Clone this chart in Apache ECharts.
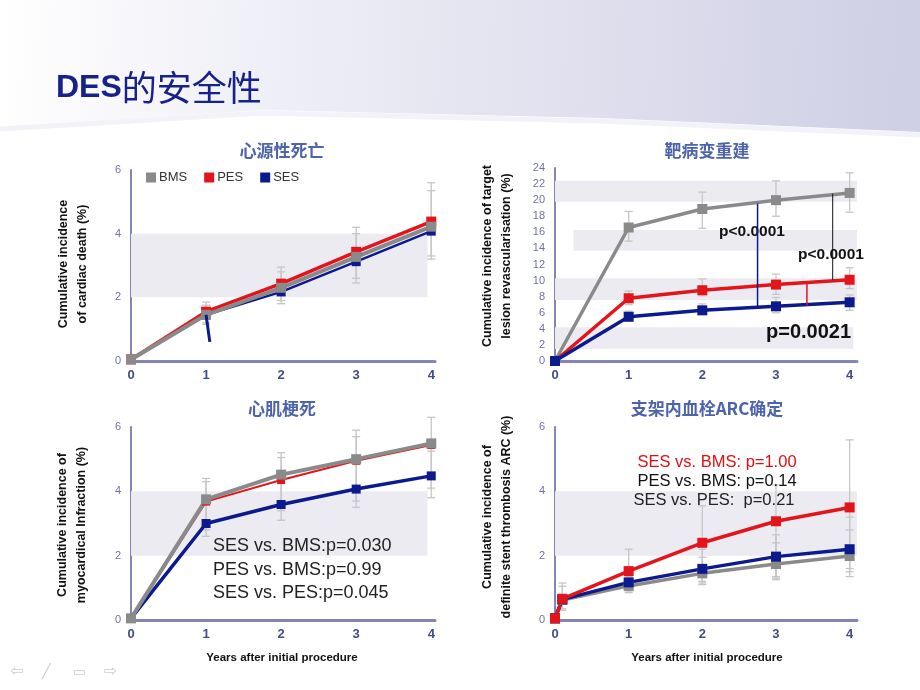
<!DOCTYPE html>
<html><head><meta charset="utf-8">
<script src="https://cdn.jsdelivr.net/npm/echarts@6/dist/echarts.min.js"></script>
<style>html,body{margin:0;padding:0;background:#fff}#c{width:920px;height:690px}</style>
</head><body><div id="c"></div>
<script>
// ---------- data ----------
const years = [0, 1, 2, 3, 4];
const xTicks = [0, 1, 2, 3, 4];
// Panel 1: cardiac death
const cdBMS = [0.05, 1.45, 2.3, 3.27, 4.22];
const cdPES = [0.05, 1.55, 2.43, 3.43, 4.38];
const cdSES = [0.05, 1.45, 2.17, 3.12, 4.08];
const cdSesTick = [[1, 1.45], [1.05, 0.6]];
const cdErr = [[1, 1.15, 1.85], [1, 1.2, 1.75], [2, 1.8, 2.95], [2, 1.9, 2.8], [3, 2.45, 4.2], [3, 2.6, 4.0], [4, 3.2, 5.6], [4, 3.3, 5.35]];
// Panel 2: target lesion revascularisation
const tlBMS = [0, 16.6, 18.9, 20.0, 20.9];
const tlPES = [0, 7.8, 8.8, 9.5, 10.1];
const tlSES = [0, 5.5, 6.3, 6.8, 7.3];
const tlErr = [[1, 14.9, 18.6], [2, 16.5, 21.0], [3, 18.0, 22.4], [4, 18.5, 23.4],
               [1, 7.0, 8.7], [2, 8.1, 10.2], [3, 8.3, 10.8], [4, 9.0, 11.6],
               [1, 5.0, 6.2], [2, 5.8, 7.1], [3, 6.0, 7.9], [4, 6.3, 8.2]];
const tlBands = [[0, 19.8, 4.1, 22.4], [0.25, 13.7, 4.1, 16.3], [0, 7.6, 4.1, 10.3], [0, 1.5, 4.05, 4.2]];
const tlLineSes = [[2.75, 6.8], [2.75, 19.6]];
const tlLineBms = [[3.77, 10.1], [3.77, 20.8]];
const tlLinePes = [[3.42, 6.9], [3.42, 9.7]];
// Panel 3: myocardial infarction
const miBMS = [0.05, 3.75, 4.52, 5.0, 5.49];
const miPES = [0.05, 3.68, 4.35, 4.95, 5.44];
const miSES = [0.05, 3.0, 3.59, 4.07, 4.48];
const miErr = [[1, 2.6, 4.4], [1, 2.8, 4.3], [2, 3.1, 5.2], [2, 3.4, 5.05], [3, 3.5, 5.9], [3, 3.7, 5.7], [4, 3.8, 6.3], [4, 4.1, 5.25]];
// Panel 4: definite stent thrombosis ARC
const stX = [0, 0.1, 1, 2, 3, 4];
const stBMS = [0.05, 0.62, 1.06, 1.45, 1.74, 1.99];
const stPES = [0.05, 0.66, 1.52, 2.4, 3.07, 3.5];
const stSES = [0.05, 0.64, 1.17, 1.59, 1.97, 2.2];
const stErr = [[0.1, 0.3, 1.15], [0.1, 0.35, 1.05], [1, 0.85, 2.2], [1, 0.9, 1.35], [2, 1.1, 3.55], [2, 1.2, 2.2], [2, 1.15, 1.95],
               [3, 1.25, 4.2], [3, 1.3, 2.65], [3, 1.35, 2.4], [4, 1.35, 5.6], [4, 1.5, 3.2], [4, 1.6, 2.8]];

const C_BMS = '#8a8a8a', C_PES = '#e3151a', C_SES = '#0b1a8c';
const FONT = '"Liberation Sans", Arial, sans-serif';
const CJK = '"Noto Sans CJK SC", sans-serif';

// ---------- layout ----------
const grids = [
  {left: 131, top: 170, width: 304, height: 191},
  {left: 555, top: 168, width: 302, height: 193},
  {left: 131, top: 427, width: 304, height: 193},
  {left: 555, top: 427, width: 302, height: 193}
];
const xMax = [4.05, 4.1, 4.05, 4.1];
const yMax = [6, 24, 6, 6];

function pairs(xs, ys) { return xs.map((x, i) => [x, ys[i]]); }

function lineS(idx, name, color, xs, ys, width, sym, z) {
  return {type: 'line', name: name, xAxisIndex: idx, yAxisIndex: idx, data: pairs(xs, ys),
    symbol: 'rect', symbolSize: sym, showSymbol: true, color: color, z: z || 3,
    lineStyle: {color: color, width: width}, itemStyle: {color: color}, silent: true, animation: false};
}
function segS(idx, data, color, width) {
  return {type: 'line', name: 'seg', xAxisIndex: idx, yAxisIndex: idx, data: data, symbol: 'none',
    lineStyle: {color: color, width: width}, z: 20, silent: true, animation: false};
}
function errS(idx, data) {
  return {type: 'custom', name: 'err', xAxisIndex: idx, yAxisIndex: idx, z: 1, silent: true, animation: false,
    renderItem: function (params, api) {
      const x = api.value(0), lo = api.value(1), hi = api.value(2);
      const p1 = api.coord([x, lo]), p2 = api.coord([x, hi]);
      const w = 4, st = {stroke: '#c6c6c6', lineWidth: 1.3};
      return {type: 'group', children: [
        {type: 'line', shape: {x1: p1[0], y1: p1[1], x2: p2[0], y2: p2[1]}, style: st},
        {type: 'line', shape: {x1: p1[0] - w, y1: p1[1], x2: p1[0] + w, y2: p1[1]}, style: st},
        {type: 'line', shape: {x1: p2[0] - w, y1: p2[1], x2: p2[0] + w, y2: p2[1]}, style: st}
      ]};
    },
    encode: {x: 0, y: [1, 2]}, data: data};
}
function bandS(idx, bands) {
  return {type: 'line', name: 'band', xAxisIndex: idx, yAxisIndex: idx, data: [], z: 0, silent: true,
    markArea: {silent: true, itemStyle: {color: '#ecebf1'},
      data: bands.map(b => [{xAxis: b[0], yAxis: b[1]}, {xAxis: b[2], yAxis: b[3]}])}};
}

const xAxes = grids.map((g, i) => ({type: 'value', gridIndex: i, min: 0, max: xMax[i], interval: 1,
  axisLine: {show: true, lineStyle: {color: '#8385b6', width: 3}},
  axisTick: {show: false}, splitLine: {show: false},
  axisLabel: {margin: 8, color: '#454a8c', fontWeight: 'bold', fontSize: 13, fontFamily: FONT,
    formatter: v => (xTicks.indexOf(v) >= 0 ? String(v) : '')}}));
const yAxes = grids.map((g, i) => ({type: 'value', gridIndex: i, min: 0, max: yMax[i], interval: 2,
  axisLine: {show: true, lineStyle: {color: '#8385b6', width: 2}},
  axisTick: {show: false}, splitLine: {show: false},
  axisLabel: {margin: 10, color: '#6f73a0', fontSize: 11, fontFamily: FONT}}));

const series = [
  bandS(0, [[0, 2, 3.95, 4]]), errS(0, cdErr),
  lineS(0, 'SES', C_SES, years, cdSES, 2.5, 9), segS(0, cdSesTick, C_SES, 3),
  lineS(0, 'PES', C_PES, years, cdPES, 3.5, 10), lineS(0, 'BMS', C_BMS, years, cdBMS, 4, 10),

  bandS(1, tlBands), errS(1, tlErr),
  lineS(1, 'BMS', C_BMS, years, tlBMS, 3.5, 10), lineS(1, 'PES', C_PES, years, tlPES, 3.5, 10),
  lineS(1, 'SES', C_SES, years, tlSES, 3.5, 10),
  segS(1, tlLineSes, C_SES, 1.5), segS(1, tlLineBms, '#111111', 1), segS(1, tlLinePes, C_PES, 1.5),

  bandS(2, [[0, 2, 3.95, 4]]), errS(2, miErr),
  lineS(2, 'SES', C_SES, years, miSES, 3.5, 9), lineS(2, 'PES', C_PES, years, miPES, 2, 8),
  lineS(2, 'BMS', C_BMS, years, miBMS, 4, 10),

  bandS(3, [[0, 2, 4.1, 4]]), errS(3, stErr),
  lineS(3, 'BMS', C_BMS, stX, stBMS, 3.5, 10), lineS(3, 'SES', C_SES, stX, stSES, 3.5, 10),
  lineS(3, 'PES', C_PES, stX, stPES, 3.5, 10)
];

function ytitle(x, y, txt) {
  return {type: 'text', x: x, y: y, rotation: Math.PI / 2, z: 10,
    style: {text: txt, fill: '#111', font: 'bold 12.5px ' + FONT, align: 'center', verticalAlign: 'middle', lineHeight: 19}};
}
function ptitle(x, y, txt) {
  return {type: 'text', x: x, y: y, z: 10, style: {text: txt, fill: '#4d63ab', font: 'bold 17px ' + CJK, align: 'center', verticalAlign: 'middle'}};
}
function ftext(x, y, txt, font, fill, align) {
  return {type: 'text', x: x, y: y, z: 10, style: {text: txt, fill: fill, font: font, align: align || 'left', verticalAlign: 'middle'}};
}

const graphics = [
  {type: 'polygon', z: -10, shape: {points: [[0, 0], [920, 0], [920, 132], [600, 118], [263, 110], [0, 127]]},
    style: {fill: new echarts.graphic.LinearGradient(0, 0, 1, 0.3, [
      {offset: 0, color: '#ffffff'}, {offset: 0.25, color: '#f1f1f8'}, {offset: 1, color: '#cfcfe5'}])}},
  {type: 'polyline', z: -9, shape: {points: [[0, 129], [263, 113], [600, 121], [920, 135]]},
    style: {stroke: '#f2f2f8', lineWidth: 5, fill: null}},
  {type: 'text', x: 56, y: 88, z: 10, style: {text: '{a|DES}{b|的安全性}', verticalAlign: 'middle',
    rich: {a: {font: 'bold 32px ' + FONT, fill: '#16228a'}, b: {font: '35px ' + CJK, fill: '#16228a'}}}},
  ptitle(282, 151, '心源性死亡'), ptitle(707, 151, '靶病变重建'),
  ptitle(282, 409, '心肌梗死'), ptitle(707, 409, '支架内血栓ARC确定'),
  ytitle(73, 264, 'Cumulative incidence\nof cardiac death (%)'),
  ytitle(497, 256, 'Cumulative incidence of target\nlesion revascularisation (%)'),
  ytitle(72, 525, 'Cumulative incidence of\nmyocardical Infraction (%)'),
  ytitle(497, 517, 'Cumulative incidence of\ndefinite stent thrombosis ARC (%)'),
  ftext(282, 658, 'Years after initial procedure', 'bold 11.5px ' + FONT, '#111', 'center'),
  ftext(707, 658, 'Years after initial procedure', 'bold 11.5px ' + FONT, '#111', 'center'),
  ftext(719, 232, 'p<0.0001', 'bold 15.5px ' + FONT, '#111'),
  ftext(798, 255, 'p<0.0001', 'bold 15.5px ' + FONT, '#111'),
  ftext(766, 332, 'p=0.0021', 'bold 20px ' + FONT, '#111'),
  ftext(213, 546, 'SES vs. BMS:p=0.030', '18px ' + FONT, '#222'),
  ftext(213, 570, 'PES vs. BMS:p=0.99', '18px ' + FONT, '#222'),
  ftext(213, 593, 'SES vs. PES:p=0.045', '18px ' + FONT, '#222'),
  ftext(717, 462, 'SES vs. BMS: p=1.00', '16.5px ' + FONT, '#e01010', 'center'),
  ftext(717, 481, 'PES vs. BMS: p=0.14', '16.5px ' + FONT, '#111', 'center'),
  ftext(714, 500, 'SES vs. PES:  p=0.21', '16.5px ' + FONT, '#222', 'center'),
  ftext(10, 672, '⇦', '16px "DejaVu Sans"', '#cfcfcf'),
  ftext(42, 672, '╱', '14px "DejaVu Sans"', '#cfcfcf'),
  ftext(73, 672, '▭', '14px "DejaVu Sans"', '#cfcfcf'),
  ftext(104, 672, '⇨', '16px "DejaVu Sans"', '#cfcfcf')
];

const chart = echarts.init(document.getElementById('c'), null, {renderer: 'canvas'});
chart.setOption({
  backgroundColor: '#ffffff',
  animation: false,
  grid: grids,
  xAxis: xAxes,
  yAxis: yAxes,
  legend: {data: ['BMS', 'PES', 'SES'], left: 141, top: 166, icon: 'rect', itemWidth: 10, itemHeight: 10,
    itemGap: 17, selectedMode: false, textStyle: {fontSize: 13, color: '#333', fontFamily: FONT, padding: [0, 0, 0, -2]}},
  series: series,
  graphic: graphics
});
</script></body></html>
